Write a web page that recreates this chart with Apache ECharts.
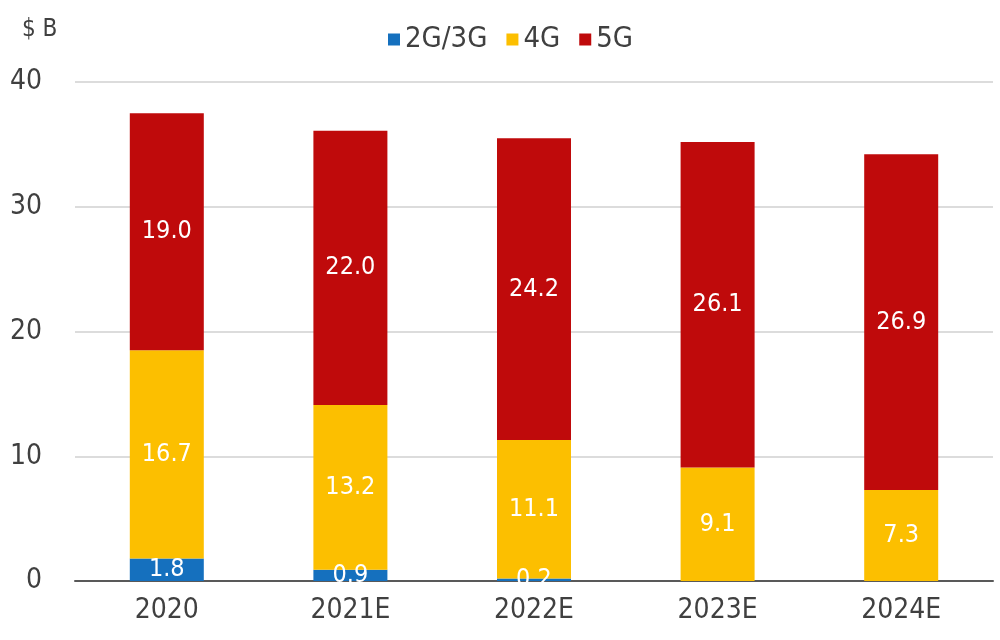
<!DOCTYPE html>
<html><head><meta charset="utf-8">
<script src="https://cdn.jsdelivr.net/npm/echarts@6/dist/echarts.min.js"></script>
<style>html,body{margin:0;padding:0;background:#fff}#c{width:1000px;height:640px}</style>
</head><body><div id="c"></div>
<script>
const categories = ['2020','2021E','2022E','2023E','2024E'];
const g23 = [1.8, 0.9, 0.2, 0, 0];
const g4 = [16.7, 13.2, 11.1, 9.1, 7.3];
const g5 = [19.0, 22.0, 24.2, 26.1, 26.9];
const yTicks = [0, 10, 20, 30, 40];

const FONT = '"DejaVu Sans Condensed", "Liberation Sans", sans-serif';
const FS = 28;
const chart = echarts.init(document.getElementById('c'));
const lbl = {
  show: true, position: 'inside', color: '#fff', fontSize: 25, fontFamily: FONT,
  formatter: p => p.value ? p.value.toFixed(1) : ''
};
function mk(name, data, color) {
  return { name, type: 'bar', stack: 'a', data, barWidth: 74,
    itemStyle: { color }, label: lbl, emphasis: { disabled: true } };
}
chart.setOption({
  animation: false,
  textStyle: { fontFamily: FONT },
  title: { text: '$ B', left: 17, top: 13, textStyle: { fontSize: 24, fontWeight: 'normal', color: '#404040', fontFamily: FONT } },
  legend: {
    top: 20, left: 383, itemWidth: 12, itemHeight: 12, itemGap: 19,
    icon: 'rect',
    textStyle: { fontSize: 29, color: '#404040', fontFamily: FONT },
    data: ['2G/3G','4G','5G']
  },
  grid: { left: 75, right: 7, top: 82, bottom: 59, containLabel: false },
  xAxis: {
    type: 'category', data: categories,
    axisLine: { lineStyle: { color: '#595959', width: 2 } },
    axisTick: { show: false },
    axisLabel: { fontSize: FS, color: '#404040', margin: 16, fontFamily: FONT }
  },
  yAxis: {
    type: 'value', min: yTicks[0], max: yTicks[yTicks.length-1], interval: 10,
    axisLine: { show: false }, axisTick: { show: false },
    splitLine: { lineStyle: { color: '#d0d0d0', width: 1.5 } },
    axisLabel: { fontSize: FS, color: '#404040', margin: 33, fontFamily: FONT }
  },
  series: [
    mk('2G/3G', g23, '#1570be'),
    mk('4G', g4, '#fcbf00'),
    mk('5G', g5, '#bf0a0b')
  ]
});
</script></body></html>
